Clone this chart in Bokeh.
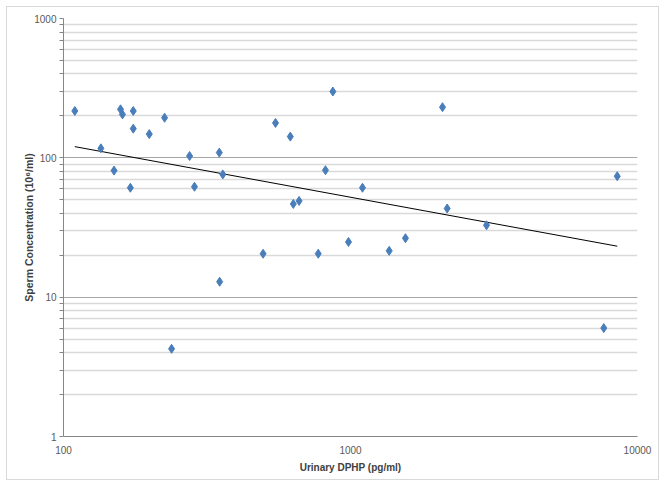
import numpy as np
from bokeh.plotting import figure
from bokeh.models import FixedTicker, PrintfTickFormatter, Range1d, ColumnDataSource
from bokeh.embed import file_html
from bokeh.resources import INLINE

# Urinary DPHP (pg/ml)
dphp = [109.5, 158, 160.5, 175, 175, 199, 225, 135, 150, 171,
        275, 286, 349, 359, 350, 238, 496, 548, 617, 632,
        662, 772, 818, 868, 984, 1101, 2092, 2172, 2978, 1364,
        1554, 8500, 7630]
# Sperm concentration (10^6/ml)
sperm = [217, 223, 205, 217, 162, 148, 194, 117, 81, 61,
         103, 62, 109, 76, 12.9, 4.26, 20.5, 178, 142, 46.7,
         49.1, 20.5, 81.5, 299, 24.9, 61, 231, 43.3, 32.8, 21.5,
         26.5, 73.8, 6.0]

x_ticks = [100, 1000, 10000]
y_ticks = [1, 10, 100, 1000]
y_minor = [m * d for d in [1, 10, 100] for m in range(2, 10)]

FONT = "Liberation Sans"

p = figure(x_axis_type="log", y_axis_type="log",
           x_range=Range1d(100, 10000), y_range=Range1d(1, 1000),
           frame_width=574, frame_height=418,
           min_border_left=56, min_border_right=21,
           min_border_top=11, min_border_bottom=43,
           output_backend="svg", toolbar_location=None,
           background_fill_color="white", border_fill_color="white")
p.outline_line_color = None
p.styles = {"border": "1px solid #d9d9d9", "margin": "6px 0 0 6px"}

# grid
p.xgrid.grid_line_color = None
p.ygrid.ticker = FixedTicker(ticks=y_ticks, minor_ticks=y_minor)
p.ygrid.grid_line_color = "#a6a6a6"
p.ygrid.grid_line_width = 1
p.ygrid.minor_grid_line_color = "#d9d9d9"
p.ygrid.minor_grid_line_width = 1.5

# x axis
xa = p.xaxis[0]
xa.ticker = FixedTicker(ticks=x_ticks, minor_ticks=[])
xa.formatter = PrintfTickFormatter(format="%d")
xa.axis_line_color = "#868686"
xa.major_tick_out = 0
xa.major_tick_in = 0
xa.minor_tick_out = 0
xa.minor_tick_in = 0
xa.major_label_standoff = 9
xa.major_label_text_font = FONT
xa.major_label_text_font_size = "10px"
xa.major_label_text_color = "#595959"
xa.axis_label = "Urinary DPHP (pg/ml)"
xa.axis_label_text_font = FONT
xa.axis_label_text_font_size = "10px"
xa.axis_label_text_font_style = "bold"
xa.axis_label_text_color = "#404040"
xa.axis_label_standoff = 5

# y axis
ya = p.yaxis[0]
ya.ticker = FixedTicker(ticks=y_ticks, minor_ticks=y_minor)
ya.formatter = PrintfTickFormatter(format="%d")
ya.axis_line_color = "#868686"
ya.major_tick_out = 4
ya.major_tick_in = 0
ya.minor_tick_out = 4
ya.minor_tick_in = 0
ya.major_tick_line_color = "#868686"
ya.minor_tick_line_color = "#868686"
ya.major_label_standoff = 3
ya.major_label_text_font = FONT
ya.major_label_text_font_size = "10px"
ya.major_label_text_color = "#595959"
ya.axis_label = "Sperm Concentration (10\u2076/ml)"
ya.axis_label_text_font = FONT
ya.axis_label_text_font_size = "10.5px"
ya.axis_label_text_font_style = "bold"
ya.axis_label_text_color = "#404040"
ya.axis_label_standoff = -4

# power trendline (least squares in log-log space)
lx = np.log10(dphp)
ly = np.log10(sperm)
b, a = np.polyfit(lx, ly, 1)
tx = np.array([min(dphp), max(dphp)])
ty = 10 ** (a + b * np.log10(tx))
p.line(tx, ty, line_color="black", line_width=1)

src = ColumnDataSource(dict(x=dphp, y=sperm))
p.scatter("x", "y", source=src, marker="diamond", size=9,
          fill_color="#4a7ebb", line_color="#4a7ebb")

open("out.html", "w").write(file_html(p, INLINE))
